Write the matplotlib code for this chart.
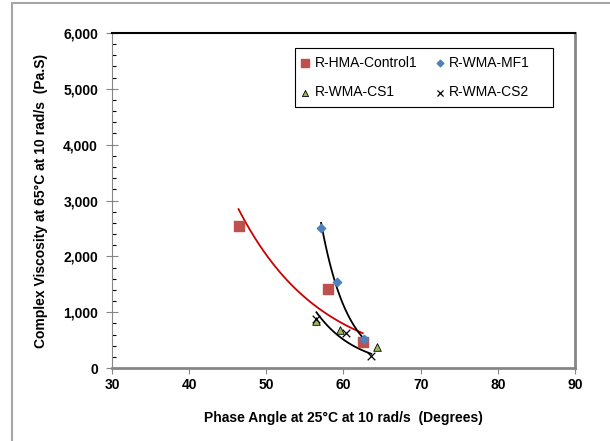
import matplotlib.pyplot as plt
from matplotlib.patches import Rectangle
from matplotlib.ticker import MultipleLocator, FuncFormatter
import numpy as np

plt.rcParams['font.family'] = ['Liberation Sans', 'DejaVu Sans']

# Phase angle (deg) and complex viscosity (Pa.s)
control1_x = [46.4, 58.0, 62.5]
control1_y = [2550, 1410, 470]
mf1_x = [57.1, 59.1, 62.6]
mf1_y = [2510, 1540, 520]
cs1_x = [56.5, 59.5, 64.3]
cs1_y = [840, 680, 380]
cs2_x = [56.5, 60.3, 63.6]
cs2_y = [880, 630, 220]


def expfit(x, y):
    x = np.array(x)
    b, a = np.polyfit(x, np.log(y), 1)
    xs = np.linspace(x.min(), x.max(), 100)
    return xs, np.exp(a + b * xs)


fig = plt.figure(figsize=(6.1, 4.41), dpi=100)
ax = fig.add_axes([0.1836, 0.1655, 0.759, 0.7597])

# outer chart border (runs off the right / bottom edge)
fig.patches.append(Rectangle((11.5 / 610, -0.1), 1.0, 1.1 - 3.5 / 441,
                             transform=fig.transFigure, fill=False,
                             edgecolor='#A6A6A6', linewidth=1.5))

# trendlines
xs, ys = expfit(control1_x, control1_y)
ax.plot(xs, ys, color='#CC0000', linewidth=1.3, zorder=2)
xs, ys = expfit(mf1_x, mf1_y)
ax.plot(xs, ys, color='black', linewidth=1.3, zorder=2)
xs, ys = expfit(cs2_x, cs2_y)
ax.plot(xs, ys, color='black', linewidth=1.3, zorder=2)

# data points
ax.scatter(control1_x, control1_y, marker='s', s=45, color='#C0504D',
           label='R-HMA-Control1', zorder=3)
ax.scatter(cs1_x, cs1_y, marker='^', s=30, facecolor='#9BBB59',
           edgecolor='black', linewidth=0.6, label='R-WMA-CS1', zorder=3)
ax.scatter(mf1_x, mf1_y, marker='D', s=18, color='#4F81BD',
           label='R-WMA-MF1', zorder=3)
ax.scatter(cs2_x, cs2_y, marker='x', s=30, color='black', linewidth=0.9,
           label='R-WMA-CS2', zorder=4)

ax.set_xlim(30, 90)
ax.set_ylim(0, 6000)
ax.xaxis.set_major_locator(MultipleLocator(10))
ax.yaxis.set_major_locator(MultipleLocator(1000))
ax.yaxis.set_minor_locator(MultipleLocator(200))
ax.yaxis.set_major_formatter(FuncFormatter(lambda v, p: f"{int(v):,}"))

for lab in ax.get_xticklabels() + ax.get_yticklabels():
    lab.set_fontweight('bold')
ax.tick_params(axis='both', labelsize=10, colors='#868686', labelcolor='black')
ax.tick_params(axis='y', which='major', direction='inout', length=8, width=0.8, pad=6)
ax.tick_params(axis='y', which='minor', direction='in', length=3, width=0.8)
ax.tick_params(axis='x', which='major', direction='out', length=4, width=0.8, pad=3)

ax.spines['left'].set_color('#868686')
ax.spines['left'].set_linewidth(0.8)
ax.spines['bottom'].set_color('#868686')
ax.spines['bottom'].set_linewidth(2.0)
ax.spines['right'].set_color('#868686')
ax.spines['right'].set_linewidth(2.0)
ax.spines['top'].set_color('black')
ax.spines['top'].set_linewidth(1.5)

ax.set_xlabel('Phase Angle at 25°C at 10 rad/s  (Degrees)', fontsize=10,
              fontweight='bold', labelpad=14)
ax.set_ylabel('Complex Viscosity at 65°C at 10 rad/s  (Pa.S)', fontsize=10,
              fontweight='bold', labelpad=11)

# legend: entries without frame, box drawn separately
handles, labels = ax.get_legend_handles_labels()
leg = ax.legend(handles, labels, ncol=2, loc='upper left',
                bbox_to_anchor=(0.405, 0.931), borderaxespad=0, borderpad=0,
                fontsize=10, frameon=False, handletextpad=0.3,
                handlelength=0.8, columnspacing=1.2, labelspacing=1.1,
                scatterpoints=1, markerscale=0.8)
ax.add_patch(Rectangle((0.395, 0.779), 0.9525 - 0.395, 0.955 - 0.779,
                       transform=ax.transAxes, fill=False, edgecolor='black',
                       linewidth=0.8, zorder=5))

plt.savefig('out.png', dpi=100)
